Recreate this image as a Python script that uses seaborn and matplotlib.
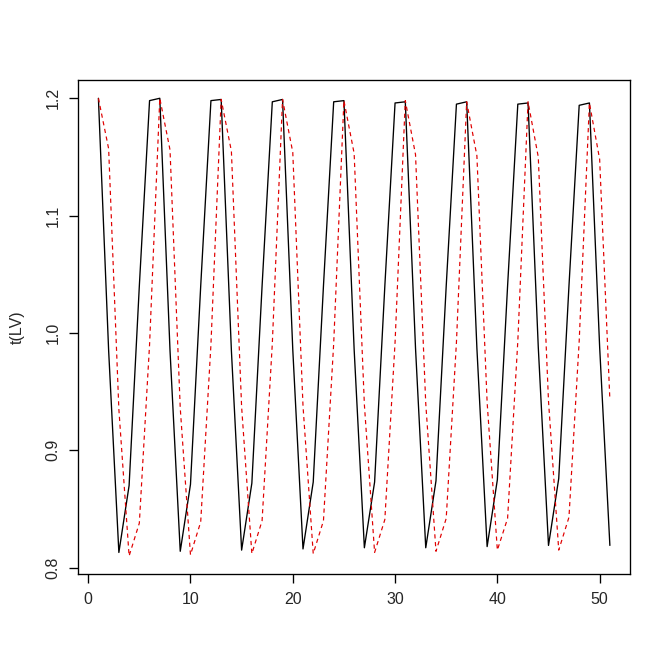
import matplotlib
matplotlib.use("Agg")
import matplotlib.pyplot as plt
import numpy as np
import pandas as pd
import seaborn as sns

# time steps 1..51
steps = list(range(1, 52))

# first row of t(LV), solid black
prey = [
    1.200, 0.985, 0.813, 0.870, 1.040, 1.198,
    1.200, 0.985, 0.814, 0.871, 1.040, 1.198,
    1.199, 0.985, 0.815, 0.872, 1.040, 1.197,
    1.199, 0.986, 0.816, 0.873, 1.040, 1.197,
    1.198, 0.986, 0.817, 0.873, 1.040, 1.196,
    1.197, 0.987, 0.817, 0.874, 1.040, 1.195,
    1.197, 0.987, 0.818, 0.875, 1.040, 1.195,
    1.196, 0.988, 0.819, 0.876, 1.040, 1.194,
    1.196, 0.988, 0.819,
]

# second row of t(LV), red dashed
predator = [
    1.200, 1.157, 0.935, 0.810, 0.838, 0.990,
    1.200, 1.156, 0.936, 0.811, 0.839, 0.990,
    1.199, 1.155, 0.937, 0.812, 0.840, 0.991,
    1.199, 1.154, 0.938, 0.812, 0.840, 0.991,
    1.198, 1.153, 0.939, 0.813, 0.841, 0.992,
    1.198, 1.152, 0.940, 0.814, 0.842, 0.992,
    1.197, 1.151, 0.941, 0.815, 0.842, 0.993,
    1.197, 1.150, 0.942, 0.815, 0.843, 0.993,
    1.196, 1.148, 0.943,
]

x_ticks = [0, 10, 20, 30, 40, 50]
y_ticks = [0.8, 0.9, 1.0, 1.1, 1.2]

df = pd.DataFrame({"step": steps, "prey": prey, "predator": predator})

sns.set_style("white")
plt.rcParams["font.family"] = ["Liberation Sans", "DejaVu Sans"]

fig = plt.figure(figsize=(7, 7), dpi=96)
ax = fig.add_axes([0.116, 0.1454, 0.822, 0.7356])

sns.lineplot(data=df, x="step", y="prey", ax=ax, color="black", linewidth=1.0)
sns.lineplot(data=df, x="step", y="predator", ax=ax, color="#e00000",
             linewidth=0.9, linestyle=(0, (3.5, 3)))

ax.set_xlim(-1, 53)
ax.set_ylim(0.7944, 1.2156)
ax.set_xticks(x_ticks)
ax.set_xticklabels([str(t) for t in x_ticks], fontsize=12)
ax.set_yticks(y_ticks)
ax.set_yticklabels([f"{t:.1f}" for t in y_ticks], fontsize=12,
                   rotation=90, va="center")
ax.tick_params(direction="out", length=7, width=1, color="black",
               bottom=True, left=True, pad=6)
for side in ax.spines.values():
    side.set_visible(True)
    side.set_color("black")
    side.set_linewidth(1)
ax.set_xlabel("")
ax.set_ylabel("t(LV)", fontsize=12, labelpad=16)

fig.savefig("out.png", dpi=96)
plt.close(fig)
